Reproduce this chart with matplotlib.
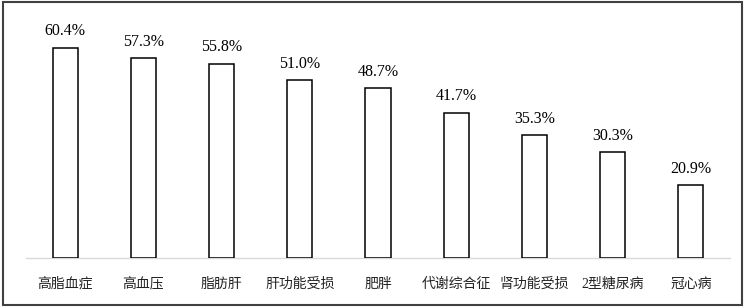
import matplotlib
matplotlib.use("Agg")
import matplotlib.pyplot as plt
from matplotlib.patches import Rectangle

categories = ["高脂血症", "高血压", "脂肪肝", "肝功能受损", "肥胖", "代谢综合征", "肾功能受损", "2型糖尿病", "冠心病"]
values = [60.4, 57.3, 55.8, 51.0, 48.7, 41.7, 35.3, 30.3, 20.9]
labels = ["60.4%", "57.3%", "55.8%", "51.0%", "48.7%", "41.7%", "35.3%", "30.3%", "20.9%"]

plt.rcParams['font.family'] = ['Liberation Serif', 'Noto Sans CJK SC', 'DejaVu Sans']

fig = plt.figure(figsize=(7.45, 3.07), dpi=100)
ax = fig.add_axes([0.0349, 0.1596, 0.945, 0.794])

x = list(range(len(categories)))
ax.bar(x, values, width=0.32, color="white", edgecolor="black", linewidth=1.1, zorder=3)
for xi, v, t in zip(x, values, labels):
    ax.annotate(t, (xi, v), xytext=(0, 6), textcoords="offset points",
                ha="center", va="bottom", fontsize=11.5)

ax.set_xlim(-0.5, len(categories) - 0.5)
ax.set_ylim(0, 70)
ax.set_xticks(x)
ax.set_xticklabels(categories, fontsize=10, color="#222222")
ax.tick_params(axis="x", length=0, pad=14)
ax.set_yticks([])
for s in ["top", "right", "left"]:
    ax.spines[s].set_visible(False)
ax.spines["bottom"].set_color("#d9d9d9")
ax.spines["bottom"].set_linewidth(1.0)

fig.patches.append(Rectangle((0.004, 0.008), 0.992, 0.985, transform=fig.transFigure,
                             fill=False, edgecolor="#404040", linewidth=1.5))

fig.savefig("out.png", dpi=100)
